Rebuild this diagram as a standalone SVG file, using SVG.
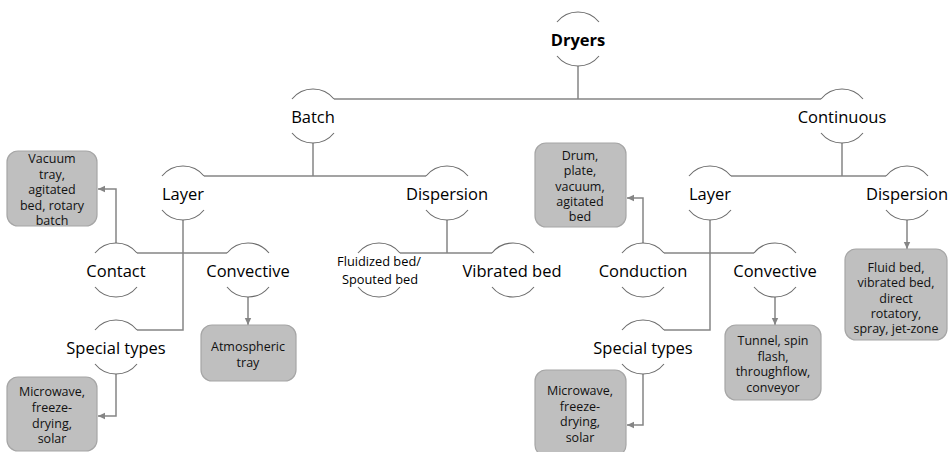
<svg xmlns="http://www.w3.org/2000/svg" xmlns:xlink="http://www.w3.org/1999/xlink" width="949" height="452" viewBox="0 0 949 452">
<style>
.lbl{font-family:"Open Sans","Noto Sans",sans-serif;font-size:16.5px;fill:#000;text-anchor:middle;dominant-baseline:central}
.sm{font-size:12.8px}
.bold{font-weight:bold}
.bt{font-family:"Open Sans","Noto Sans",sans-serif;font-size:12.5px;fill:#111;text-anchor:middle;dominant-baseline:central}
.arc{fill:none;stroke:#6b6b6b;stroke-width:1.1}
.box{fill:#bfbfbf;stroke:#a6a6a6;stroke-width:1.2}
.con{fill:none;stroke:#858585;stroke-width:1.5}
.arr{fill:none;stroke:#858585;stroke-width:1.5;marker-end:url(#ah)}
</style>
<defs>
<path id="arcs" d="M-21,-17 A27,27 0 0 1 21,-17 M-21,17 A27,27 0 0 0 21,17"/>
<marker id="ah" markerUnits="userSpaceOnUse" markerWidth="8" markerHeight="8" viewBox="0 0 8 8" refX="7" refY="4" orient="auto">
<path d="M0,0.8 L7,4 L0,7.2 Z" fill="#858585"/>
</marker>
</defs>
<rect width="949" height="452" fill="#fff"/>

<g id="connectors">
<path class="con" d="M578,66 V99 M334,99 H821"/>
<path class="con" d="M313,143 V176 M204,176 H426"/>
<path class="con" d="M842,143 V176 M731,176 H886"/>
<path class="con" d="M183,220 V330 H137"/>
<path class="con" d="M137,253 H227"/>
<path class="con" d="M447,220 V253 M400,253 H492"/>
<path class="con" d="M710,220 V330 H664"/>
<path class="con" d="M664,253 H754"/>
<path class="arr" d="M116,243 V189 H98"/>
<path class="arr" d="M248,297 V325"/>
<path class="arr" d="M116,374 V416 H98"/>
<path class="arr" d="M643,243 V198 H627"/>
<path class="arr" d="M775,297 V325"/>
<path class="arr" d="M907,220 V249"/>
<path class="arr" d="M643,374 V425 H627"/>
</g>

<g id="dryers"><use href="#arcs" x="578" y="39" class="arc"/><text class="lbl bold" x="578" y="39">Dryers</text></g>
<g id="batch"><use href="#arcs" x="313" y="116" class="arc"/><text class="lbl" x="313" y="116">Batch</text></g>
<g id="continuous"><use href="#arcs" x="842" y="116" class="arc"/><text class="lbl" x="842" y="116">Continuous</text></g>
<g id="layer-batch"><use href="#arcs" x="183" y="193" class="arc"/><text class="lbl" x="183" y="193">Layer</text></g>
<g id="dispersion-batch"><use href="#arcs" x="447" y="193" class="arc"/><text class="lbl" x="447" y="193">Dispersion</text></g>
<g id="contact"><use href="#arcs" x="116" y="270" class="arc"/><text class="lbl" x="116" y="270">Contact</text></g>
<g id="convective-batch"><use href="#arcs" x="248" y="270" class="arc"/><text class="lbl" x="248" y="270">Convective</text></g>
<g id="fluidized"><use href="#arcs" x="379" y="270" class="arc"/><text class="lbl sm" x="379" y="261">Fluidized bed/<tspan x="380" dy="17.5">Spouted bed</tspan></text></g>
<g id="vibrated"><use href="#arcs" x="513" y="270" class="arc"/><text class="lbl" x="512" y="270">Vibrated bed</text></g>
<g id="special-batch"><use href="#arcs" x="116" y="347" class="arc"/><text class="lbl" x="116" y="347">Special types</text></g>
<g id="layer-cont"><use href="#arcs" x="710" y="193" class="arc"/><text class="lbl" x="710" y="193">Layer</text></g>
<g id="dispersion-cont"><use href="#arcs" x="907" y="193" class="arc"/><text class="lbl" x="907" y="193">Dispersion</text></g>
<g id="conduction"><use href="#arcs" x="643" y="270" class="arc"/><text class="lbl" x="643" y="270">Conduction</text></g>
<g id="convective-cont"><use href="#arcs" x="775" y="270" class="arc"/><text class="lbl" x="775" y="270">Convective</text></g>
<g id="special-cont"><use href="#arcs" x="643" y="347" class="arc"/><text class="lbl" x="643" y="347">Special types</text></g>

<g id="box-vacuum"><rect class="box" x="7" y="151" width="90" height="75" rx="11"/>
<text class="bt" x="52" y="158">Vacuum<tspan x="52" dy="15.5">tray,</tspan><tspan x="52" dy="15.5">agitated</tspan><tspan x="52" dy="15.5">bed, rotary</tspan><tspan x="52" dy="15.5">batch</tspan></text></g>
<g id="box-microwave-batch"><rect class="box" x="7" y="377" width="90" height="74" rx="11"/>
<text class="bt" x="52" y="391.5">Microwave,<tspan x="52" dy="15.5">freeze-</tspan><tspan x="52" dy="15.5">drying,</tspan><tspan x="52" dy="15.5">solar</tspan></text></g>
<g id="box-atmospheric"><rect class="box" x="201" y="325" width="95" height="56" rx="11"/>
<text class="bt" x="248" y="346">Atmospheric<tspan x="248" dy="16">tray</tspan></text></g>
<g id="box-drum"><rect class="box" x="535" y="143" width="91" height="84" rx="11"/>
<text class="bt" x="580" y="155">Drum,<tspan x="580" dy="15.25">plate,</tspan><tspan x="580" dy="15.25">vacuum,</tspan><tspan x="580" dy="15.25">agitated</tspan><tspan x="580" dy="15.25">bed</tspan></text></g>
<g id="box-microwave-cont"><rect class="box" x="535" y="370" width="91" height="86" rx="11"/>
<text class="bt" x="580" y="390">Microwave,<tspan x="580" dy="15.5">freeze-</tspan><tspan x="580" dy="15.5">drying,</tspan><tspan x="580" dy="15.5">solar</tspan></text></g>
<g id="box-tunnel"><rect class="box" x="725" y="325" width="96" height="75" rx="11"/>
<text class="bt" x="773" y="340">Tunnel, spin<tspan x="773" dy="15.5">flash,</tspan><tspan x="773" dy="15.5">throughflow,</tspan><tspan x="773" dy="15.5">conveyor</tspan></text></g>
<g id="box-fluid"><rect class="box" x="845" y="249" width="102" height="91" rx="11"/>
<text class="bt" x="896" y="267">Fluid bed,<tspan x="896" dy="15.25">vibrated bed,</tspan><tspan x="896" dy="15.25">direct</tspan><tspan x="896" dy="15.25">rotatory,</tspan><tspan x="896" dy="15.25">spray, jet-zone</tspan></text></g>
</svg>
